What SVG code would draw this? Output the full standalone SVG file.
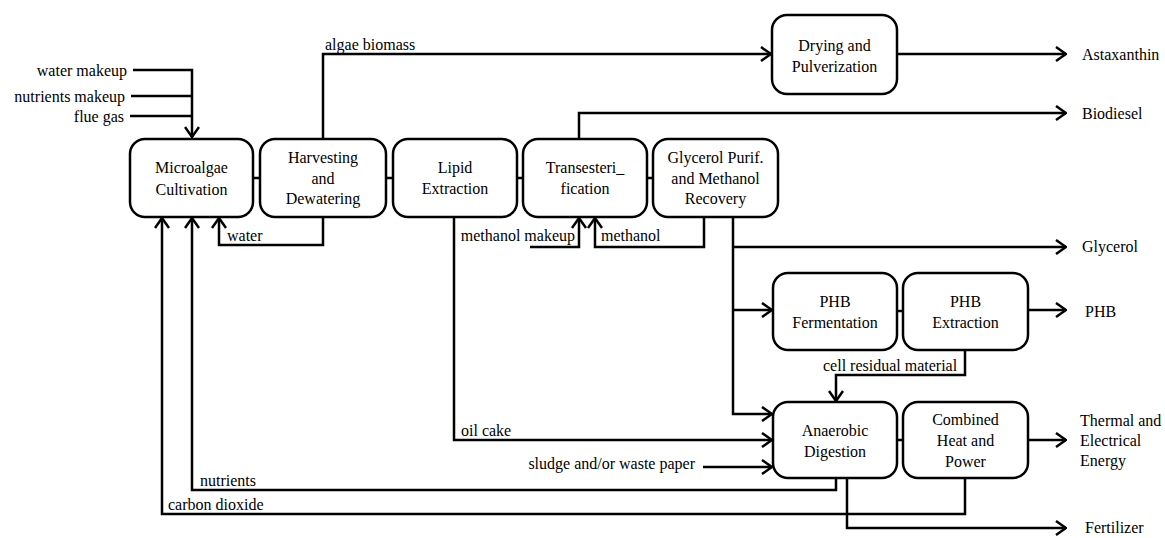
<svg xmlns="http://www.w3.org/2000/svg" width="1165" height="538" viewBox="0 0 1165 538">
<style>
.box rect{fill:#fff;stroke:#000;stroke-width:2.5}
.m{text-anchor:middle}
#connectors path{fill:none;stroke:#000;stroke-width:2.5}
.end{text-anchor:end}
</style>
<defs>
<marker id="arr" viewBox="0 0 12 16" markerWidth="12" markerHeight="16" refX="11" refY="8" orient="auto" markerUnits="userSpaceOnUse">
<path d="M1,1 L11,8 L1,15" fill="none" stroke="#000" stroke-width="2.5"/>
</marker>
</defs>
<rect width="1165" height="538" fill="#fff"/>
<g id="connectors">
<path d="M133,70 H192 V137" marker-end="url(#arr)"/>
<path d="M131,96 H192"/>
<path d="M130,116 H192"/>
<path d="M323,138 V54 H771" marker-end="url(#arr)"/>
<path d="M897,54 H1066" marker-end="url(#arr)"/>
<path d="M579,138 V113 H1066" marker-end="url(#arr)"/>
<path d="M323,217 V245 H219 V218" marker-end="url(#arr)"/>
<path d="M704,217 V247 H595 V218" marker-end="url(#arr)"/>
<path d="M530,247 H579 V218" marker-end="url(#arr)"/>
<path d="M733,217 V414 H772" marker-end="url(#arr)"/>
<path d="M733,247 H1066" marker-end="url(#arr)"/>
<path d="M733,310 H772" marker-end="url(#arr)"/>
<path d="M1028,310 H1066" marker-end="url(#arr)"/>
<path d="M965,350 V375 H836 V401" marker-end="url(#arr)"/>
<path d="M454,217 V440 H772" marker-end="url(#arr)"/>
<path d="M703,467 H772" marker-end="url(#arr)"/>
<path d="M1028,440 H1066" marker-end="url(#arr)"/>
<path d="M836,478 V490 H192 V218" marker-end="url(#arr)"/>
<path d="M965,478 V514 H162 V218" marker-end="url(#arr)"/>
<path d="M847,478 V528 H1066" marker-end="url(#arr)"/>
<path d="M253,178 H260 M386,178 H393 M517,178 H523 M647,178 H653 M897,311 H903 M897,440 H903"/>
</g>
<g id="labels">
<text font-family="Liberation Serif" font-size="16" class="end" x="127" y="76">water makeup</text>
<text font-family="Liberation Serif" font-size="16" class="end" x="125" y="102">nutrients makeup</text>
<text font-family="Liberation Serif" font-size="16" class="end" x="124" y="122">flue gas</text>
<text font-family="Liberation Serif" font-size="16" x="325" y="50">algae biomass</text>
<text font-family="Liberation Serif" font-size="16" x="227" y="241">water</text>
<text font-family="Liberation Serif" font-size="16" class="end" x="575" y="241">methanol makeup</text>
<text font-family="Liberation Serif" font-size="16" x="601" y="241">methanol</text>
<text font-family="Liberation Serif" font-size="16" x="461" y="436">oil cake</text>
<text font-family="Liberation Serif" font-size="16" class="end" x="695" y="469">sludge and/or waste paper</text>
<text font-family="Liberation Serif" font-size="16" x="200" y="486">nutrients</text>
<text font-family="Liberation Serif" font-size="16" x="168" y="510">carbon dioxide</text>
<text font-family="Liberation Serif" font-size="16" x="823" y="371">cell residual material</text>
<text font-family="Liberation Serif" font-size="16" x="1082" y="60">Astaxanthin</text>
<text font-family="Liberation Serif" font-size="16" x="1082" y="119">Biodiesel</text>
<text font-family="Liberation Serif" font-size="16" x="1082" y="252">Glycerol</text>
<text font-family="Liberation Serif" font-size="16" x="1085" y="317">PHB</text>
<text font-family="Liberation Serif" font-size="16" x="1080" y="426">Thermal and</text>
<text font-family="Liberation Serif" font-size="16" x="1080" y="446">Electrical</text>
<text font-family="Liberation Serif" font-size="16" x="1080" y="466">Energy</text>
<text font-family="Liberation Serif" font-size="16" x="1085" y="533">Fertilizer</text>
</g>
<g id="microalgae" class="box"><rect x="130" y="139" width="123" height="78" rx="15"/><text font-family="Liberation Serif" font-size="16" class="m" x="191.5" y="173">Microalgae</text><text font-family="Liberation Serif" font-size="16" class="m" x="191.5" y="195">Cultivation</text></g>
<g id="harvesting" class="box"><rect x="260" y="139" width="126" height="78" rx="15"/><text font-family="Liberation Serif" font-size="16" class="m" x="323" y="163">Harvesting</text><text font-family="Liberation Serif" font-size="16" class="m" x="323" y="184">and</text><text font-family="Liberation Serif" font-size="16" class="m" x="323" y="204">Dewatering</text></g>
<g id="lipid" class="box"><rect x="393" y="139" width="124" height="78" rx="15"/><text font-family="Liberation Serif" font-size="16" class="m" x="455" y="173">Lipid</text><text font-family="Liberation Serif" font-size="16" class="m" x="455" y="194">Extraction</text></g>
<g id="transesterification" class="box"><rect x="523" y="139" width="124" height="78" rx="15"/><text font-family="Liberation Serif" font-size="16" class="m" x="585" y="173">Transesteri_</text><text font-family="Liberation Serif" font-size="16" class="m" x="585" y="194">fication</text></g>
<g id="glycerol" class="box"><rect x="653" y="139" width="125" height="78" rx="15"/><text font-family="Liberation Serif" font-size="16" class="m" x="715.5" y="163">Glycerol Purif.</text><text font-family="Liberation Serif" font-size="16" class="m" x="715.5" y="184">and Methanol</text><text font-family="Liberation Serif" font-size="16" class="m" x="715.5" y="204">Recovery</text></g>
<g id="drying" class="box"><rect x="772" y="15" width="125" height="79" rx="15"/><text font-family="Liberation Serif" font-size="16" class="m" x="834.5" y="51">Drying and</text><text font-family="Liberation Serif" font-size="16" class="m" x="834.5" y="72">Pulverization</text></g>
<g id="phbferm" class="box"><rect x="773" y="273" width="124" height="77" rx="15"/><text font-family="Liberation Serif" font-size="16" class="m" x="835" y="307">PHB</text><text font-family="Liberation Serif" font-size="16" class="m" x="835" y="328">Fermentation</text></g>
<g id="phbext" class="box"><rect x="903" y="273" width="125" height="77" rx="15"/><text font-family="Liberation Serif" font-size="16" class="m" x="965.5" y="307">PHB</text><text font-family="Liberation Serif" font-size="16" class="m" x="965.5" y="328">Extraction</text></g>
<g id="anaerobic" class="box"><rect x="773" y="402" width="124" height="76" rx="15"/><text font-family="Liberation Serif" font-size="16" class="m" x="835" y="436">Anaerobic</text><text font-family="Liberation Serif" font-size="16" class="m" x="835" y="457">Digestion</text></g>
<g id="chp" class="box"><rect x="903" y="402" width="125" height="76" rx="15"/><text font-family="Liberation Serif" font-size="16" class="m" x="965.5" y="425">Combined</text><text font-family="Liberation Serif" font-size="16" class="m" x="965.5" y="446">Heat and</text><text font-family="Liberation Serif" font-size="16" class="m" x="965.5" y="467">Power</text></g>
</svg>
